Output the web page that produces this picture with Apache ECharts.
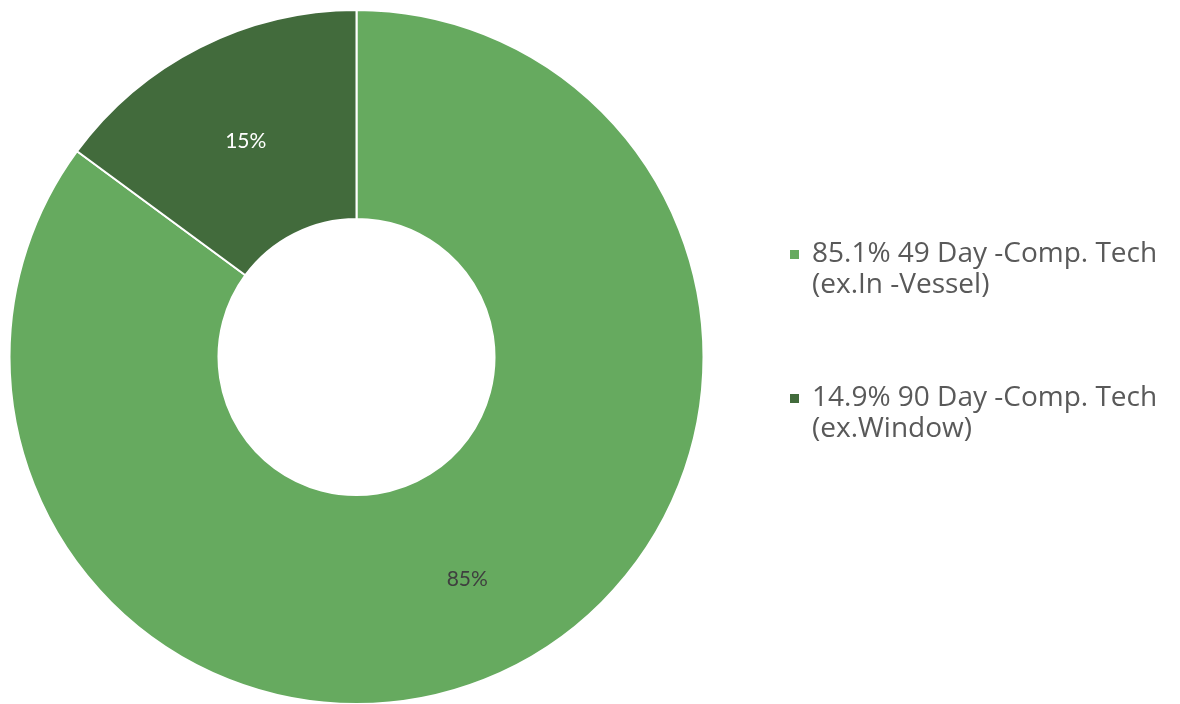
<!DOCTYPE html>
<html>
<head>
<meta charset="utf-8">
<script src="https://cdn.jsdelivr.net/npm/echarts@6/dist/echarts.min.js"></script>
<style>
  html, body { margin: 0; padding: 0; background: #ffffff; }
  #chart { width: 1180px; height: 704px; }
</style>
</head>
<body>
<div id="chart"></div>
<script>
// Share of compliance technique by waiting period
const categories = ['85.1% 49 Day -Comp. Tech\n(ex.In -Vessel)', '14.9% 90 Day -Comp. Tech\n(ex.Window)'];
const shares = [85.1, 14.9];
const sliceColors = ['#66aa5f', '#426b3c'];
const labelColors = ['#3f3f3f', '#ffffff'];

const legendFont = {
  fontFamily: 'Open Sans',
  fontSize: 28,
  color: '#595959',
  lineHeight: 31,
  padding: [0, 0, 0, 8]
};

const chart = echarts.init(document.getElementById('chart'));

chart.setOption({
  animation: false,
  legend: {
    orient: 'vertical',
    left: 790,
    top: 208,
    padding: 0,
    icon: 'rect',
    itemWidth: 9,
    itemHeight: 9,
    itemGap: 51,
    itemStyle: { borderWidth: 0 },
    selectedMode: false,
    data: categories,
    // leading blank line keeps the swatch level with the first text line
    formatter: name => ['{t| }'].concat(name.split('\n').map(s => '{t|' + s + '}')).join('\n'),
    textStyle: {
      fontFamily: 'Open Sans',
      fontSize: 28,
      lineHeight: 31,
      rich: { t: legendFont }
    }
  },
  series: [{
    type: 'pie',
    center: [356.5, 357],
    radius: [138, 347],
    startAngle: 90,
    clockwise: true,
    itemStyle: { borderColor: '#ffffff', borderWidth: 2 },
    label: {
      position: 'inside',
      fontFamily: 'Lato',
      fontSize: 21,
      offset: [0, 3],
      formatter: p => Math.round(p.value) + '%'
    },
    labelLine: { show: false },
    emphasis: { disabled: true },
    data: categories.map((name, i) => ({
      name: name,
      value: shares[i],
      itemStyle: { color: sliceColors[i] },
      label: { color: labelColors[i] }
    }))
  }]
});
</script>
</body>
</html>
